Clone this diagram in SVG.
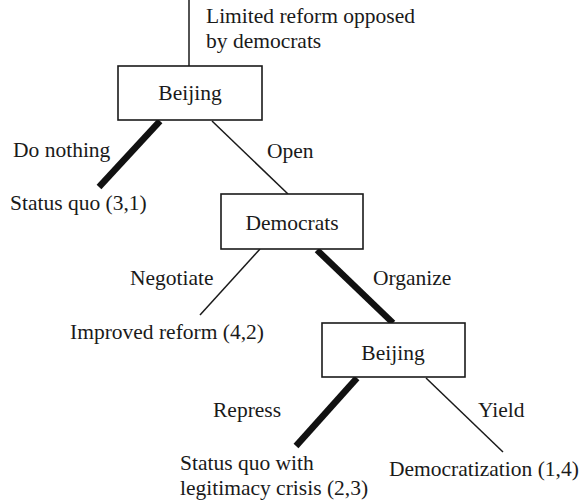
<svg xmlns="http://www.w3.org/2000/svg" width="583" height="504" viewBox="0 0 583 504">
  <style>
    .t { font-family: 'Liberation Serif', Tinos, 'Times New Roman', Times, 'DejaVu Serif', serif; font-size: 21.5px; fill: #1a1a1a; }
    .mid { text-anchor: middle; }
    .box { fill: #ffffff; stroke: #1a1a1a; stroke-width: 1.6; }
    .thin { stroke: #1a1a1a; stroke-width: 1.5; fill: none; }
    .thick { stroke: #111111; stroke-width: 6.5; fill: none; }
  </style>
  <rect width="583" height="504" fill="#ffffff"/>

  <!-- game-tree branches -->
  <g id="connectors">
    <line class="thin" x1="189" y1="0" x2="189" y2="66"/>
    <line class="thick" x1="160" y1="121" x2="99" y2="187"/>
    <line class="thin" x1="212" y1="121" x2="288" y2="194"/>
    <line class="thin" x1="260" y1="249" x2="200" y2="315"/>
    <line class="thick" x1="317" y1="250" x2="393" y2="323"/>
    <line class="thick" x1="357" y1="378" x2="296" y2="446"/>
    <line class="thin" x1="426" y1="378" x2="503" y2="452"/>
  </g>

  <!-- branch labels -->
  <g id="labels" class="t" font-family="Liberation Serif, serif">
    <text x="206" y="23">Limited reform opposed</text>
    <text x="206" y="48">by democrats</text>
    <text x="13" y="157">Do nothing</text>
    <text x="267" y="158">Open</text>
    <text x="130" y="285">Negotiate</text>
    <text x="373" y="285">Organize</text>
    <text x="213" y="417">Repress</text>
    <text x="478" y="417">Yield</text>
  </g>

  <!-- decision nodes -->
  <g id="node-beijing-1" class="t">
    <rect class="box" x="118" y="66" width="144" height="54"/>
    <text class="mid" x="190" y="100">Beijing</text>
  </g>
  <g id="node-democrats" class="t">
    <rect class="box" x="221" y="194" width="142" height="55"/>
    <text class="mid" x="292" y="230">Democrats</text>
  </g>
  <g id="node-beijing-2" class="t">
    <rect class="box" x="322" y="323" width="143" height="54"/>
    <text class="mid" x="393" y="360">Beijing</text>
  </g>

  <!-- outcomes -->
  <g id="outcome-status-quo" class="t">
    <text x="10" y="210">Status quo (3,1)</text>
  </g>
  <g id="outcome-improved-reform" class="t">
    <text x="70" y="339">Improved reform (4,2)</text>
  </g>
  <g id="outcome-legitimacy-crisis" class="t">
    <text x="180" y="470">Status quo with</text>
    <text x="180" y="495">legitimacy crisis (2,3)</text>
  </g>
  <g id="outcome-democratization" class="t">
    <text x="389" y="476">Democratization (1,4)</text>
  </g>
</svg>
